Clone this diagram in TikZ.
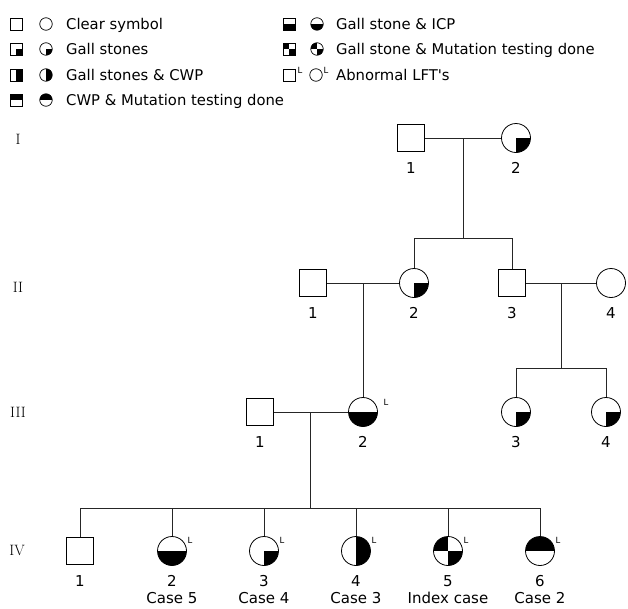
\documentclass[tikz,border=0pt]{standalone}
\usepackage{fontspec}
\newfontfamily\sff{DejaVu Sans}
\begin{document}
\begin{tikzpicture}[x=1pt,y=-1pt,
  ln/.style={line width=0.7pt, draw=black!85},
  sq/.style={rectangle, draw, line width=0.8pt, minimum size=27pt, inner sep=0pt},
  ci/.style={circle, draw, line width=0.8pt, minimum size=29pt, inner sep=0pt},
  lsq/.style={rectangle, draw, line width=0.7pt, minimum size=12pt, inner sep=0pt},
  lci/.style={circle, draw, line width=0.7pt, minimum size=12.5pt, inner sep=0pt},
  qBR/.style={path picture={\fill (path picture bounding box.center) rectangle (path picture bounding box.south east);}},
  hR/.style={path picture={\fill (path picture bounding box.north) rectangle (path picture bounding box.south east);}},
  hT/.style={path picture={\fill (path picture bounding box.west) rectangle (path picture bounding box.north east);}},
  hB/.style={path picture={\fill (path picture bounding box.west) rectangle (path picture bounding box.south east);}},
  chk/.style={path picture={\fill (path picture bounding box.north west) rectangle (path picture bounding box.center);
                            \fill (path picture bounding box.center) rectangle (path picture bounding box.south east);}},
  lt/.style={font=\sff\fontsize{14.8}{18}\selectfont, anchor=base west, inner sep=0pt},
  num/.style={font=\sff\fontsize{15}{18}\selectfont, anchor=base, inner sep=0pt},
  supL/.style={font=\sff\fontsize{8.5}{10}\selectfont, inner sep=0pt},
  gen/.style={font=\fontsize{15}{17}\selectfont, inner sep=0pt}
]
\useasboundingbox (0,0) rectangle (628,608);

% ---------- legend ----------
\node[lsq] (la1) at (16,24) {};
\node[lci] (lb1) at (46,24) {};
\node[lt] (lc1) at (66,29.5) {Clear symbol};
\node[lsq,qBR] (la2) at (16,49) {};
\node[lci,qBR] (lb2) at (46,49) {};
\node[lt] (lc2) at (66,54.5) {Gall stones};
\node[lsq,hR] (la3) at (16,75) {};
\node[lci,hR] (lb3) at (46,75) {};
\node[lt] (lc3) at (66,80.5) {Gall stones \& CWP};
\node[lsq,hT] (la4) at (16,100) {};
\node[lci,hT] (lb4) at (46,100) {};
\node[lt] (lc4) at (66,105.5) {CWP \& Mutation testing done};

\node[lsq,hB] (ra1) at (289,24) {};
\node[lci,hB] (rb1) at (317,24) {};
\node[lt] (rc1) at (336,29.5) {Gall stone \& ICP};
\node[lsq,chk] (ra2) at (289,49) {};
\node[lci,chk] (rb2) at (317,49) {};
\node[lt] (rc2) at (336,54.5) {Gall stone \& Mutation testing done};
\node[lsq] (ra3) at (289,75) {};
\node[supL] (rl3) at (300,70) {L};
\node[lci] (rb3) at (316,75) {};
\node[supL] (rm3) at (326,70) {L};
\node[lt] (rc3) at (336,80.5) {Abnormal LFT's};

% ---------- generation labels ----------
\node[gen] (g1) at (18,139) {I};
\node[gen] (g2) at (18,287) {II};
\node[gen] (g3) at (18,412) {III};
\node[gen] (g4) at (17,550) {IV};

% ---------- generation I ----------
\node[sq] (I1) at (411,138) {};
\node[ci,qBR] (I2) at (516,138) {};
\node[num] at (411,173.5) {1};
\node[num] at (516,173.5) {2};
\coordinate (m1) at (463,138);
\coordinate (s1) at (463,238);
\coordinate (s1a) at (414,238);
\coordinate (s1b) at (512,238);

% ---------- generation II ----------
\node[sq] (II1) at (313,283) {};
\node[ci,qBR] (II2) at (414,283) {};
\node[sq] (II3) at (512,283) {};
\node[ci] (II4) at (611,283) {};
\node[num] at (313,318.5) {1};
\node[num] at (414,318.5) {2};
\node[num] at (512,318.5) {3};
\node[num] at (611,318.5) {4};
\coordinate (m2) at (363,283);
\coordinate (m3) at (561,283);
\coordinate (s3) at (561,368);
\coordinate (s3a) at (516,368);
\coordinate (s3b) at (606,368);

% ---------- generation III ----------
\node[sq] (III1) at (260,412) {};
\node[ci,hB] (III2) at (363,412) {};
\node[supL] at (386,402) {L};
\node[ci,qBR] (III3) at (516,412) {};
\node[ci,qBR] (III4) at (606,412) {};
\node[num] at (260,447.5) {1};
\node[num] at (363,447.5) {2};
\node[num] at (516,447.5) {3};
\node[num] at (606,447.5) {4};
\coordinate (m4) at (310,412);
\coordinate (s4) at (310,508);
\coordinate (s4a) at (80,508);
\coordinate (s4b) at (540,508);

% ---------- generation IV ----------
\node[sq] (IV1) at (80,551) {};
\node[ci,hB] (IV2) at (172,551) {};
\node[ci,qBR] (IV3) at (264,551) {};
\node[ci,hR] (IV4) at (356,551) {};
\node[ci,chk] (IV5) at (448,551) {};
\node[ci,hT] (IV6) at (540,551) {};
\foreach \n/\x in {IV2/172,IV3/264,IV4/356,IV5/448,IV6/540}
  \node[supL] at (\x+18,540) {L};
\node[num] at (80,586) {1};
\node[num] at (172,586) {2};
\node[num] at (264,586) {3};
\node[num] at (356,586) {4};
\node[num] at (448,586) {5};
\node[num] at (540,586) {6};
\node[num] at (172,603.5) {Case 5};
\node[num] at (264,603.5) {Case 4};
\node[num] at (356,603.5) {Case 3};
\node[num] at (448,603.5) {Index case};
\node[num] at (540,603.5) {Case 2};

% ---------- connectors ----------
\draw[ln] (I1.east) -- (I2.west);
\draw[ln] (m1) -- (s1);
\draw[ln] (s1a) -- (s1b);
\draw[ln] (s1a) -- (II2.north);
\draw[ln] (s1b) -- (II3.north);

\draw[ln] (II1.east) -- (II2.west);
\draw[ln] (m2) -- (III2.north);
\draw[ln] (II3.east) -- (II4.west);
\draw[ln] (m3) -- (s3);
\draw[ln] (s3a) -- (s3b);
\draw[ln] (s3a) -- (III3.north);
\draw[ln] (s3b) -- (III4.north);

\draw[ln] (III1.east) -- (III2.west);
\draw[ln] (m4) -- (s4);
\draw[ln] (s4a) -- (s4b);
\foreach \c in {IV1,IV2,IV3,IV4,IV5,IV6}
  \draw[ln] (s4a -| \c.north) -- (\c.north);
\end{tikzpicture}
\end{document}
